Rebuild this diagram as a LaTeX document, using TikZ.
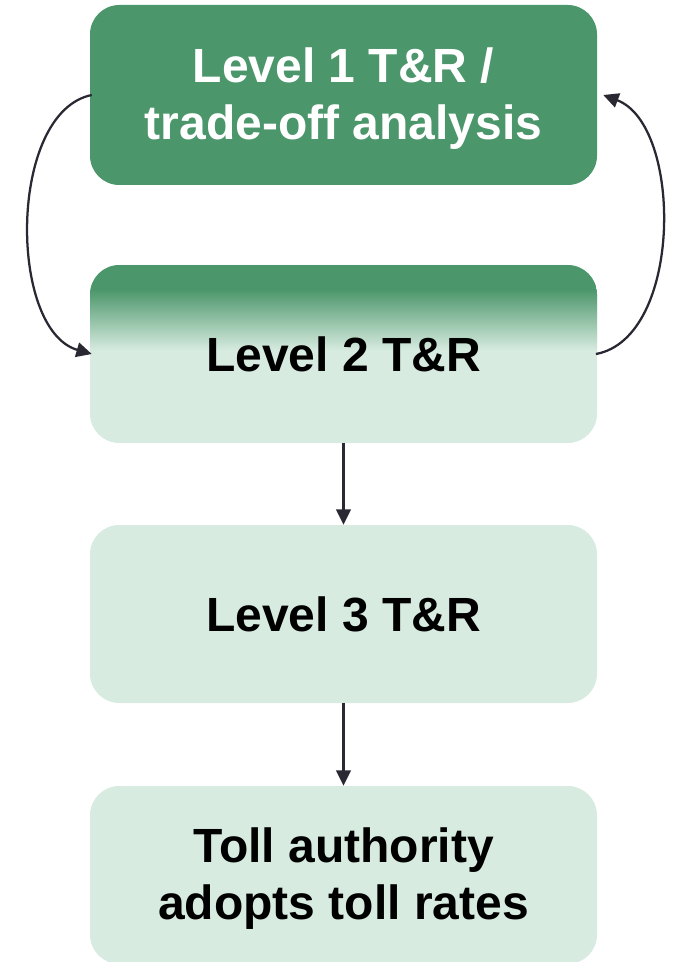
\documentclass[tikz,border=0pt]{standalone}
\usepackage{fontspec}
\setmainfont{Liberation Sans}
\usetikzlibrary{arrows.meta,calc}
\definecolor{darkgreen}{HTML}{4B966A}
\definecolor{palegreen}{HTML}{D7EBE0}
\definecolor{linkcol}{HTML}{2A2933}
\tikzset{
  stage/.style={rounded corners=22pt, minimum width=380.25pt, minimum height=133.5pt,
    inner sep=0pt},
  darkstage/.style={stage, fill=darkgreen},
  lightstage/.style={stage, fill=palegreen},
  caption/.style={align=center, inner sep=0pt,
    font=\fontsize{36}{42.75}\selectfont\bfseries},
  link/.style={draw=linkcol, line width=1.7pt, -{Triangle[length=11.5pt,width=11pt]}},
}
\begin{document}
\begin{tikzpicture}[x=0.75pt,y=-0.75pt]
\useasboundingbox (0,0) rectangle (676,962);
% stage boxes
\node[darkstage, minimum height=135pt] (l1) at (343.5,95) {};
\node[lightstage,
  path picture={
    \fill[darkgreen, sharp corners] (path picture bounding box.north west) rectangle
      ($(path picture bounding box.north east)+(0,-18pt)$);
    \shade[top color=darkgreen, bottom color=palegreen, sharp corners]
      ($(path picture bounding box.north west)+(0,-18pt)$) rectangle
      ($(path picture bounding box.north east)+(0,-64pt)$);
  }] (l2) at (343.5,354) {};
\node[lightstage] (l3) at (343.5,614) {};
\node[lightstage] (l4) at (343.5,875) {};
% stage captions
\node[caption, text=white] (t1) at ([yshift=-2.5pt]l1.center) {Level 1 T\&R /\\trade-off analysis};
\node[caption] (t2) at (l2.center) {Level 2 T\&R};
\node[caption] (t3) at (l3.center) {Level 3 T\&R};
\node[caption] (t4) at ([yshift=-3pt]l4.center) {Toll authority\\adopts toll rates};
% connectors
\coordinate (a1) at ([xshift=1.5pt]l1.west);
\coordinate (a2) at ([xshift=1.5pt]l2.west);
\coordinate (b1) at ([xshift=4.5pt]l1.east);
\coordinate (b2) at ([xshift=-1pt]l2.east);
\draw[link] (a1) .. controls (8,112) and (8,330) .. (a2);
\draw[link] (b2) .. controls (683,338) and (683,125) .. (b1);
\draw[link] (l2.south) -- (l3.north);
\draw[link] (l3.south) -- (l4.north);
\end{tikzpicture}
\end{document}
